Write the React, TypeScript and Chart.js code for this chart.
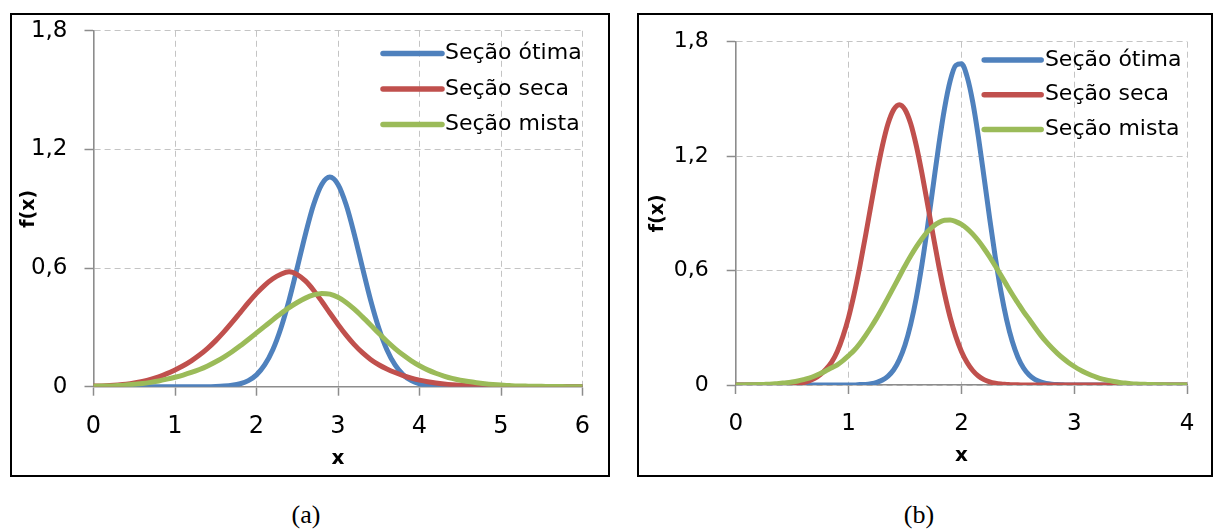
import React, { useEffect, useRef } from "react";
import { Chart, registerables } from "chart.js";

Chart.register(...registerables);

// ---------- data: chart (a) ----------
const xA = [
  0, 0.1, 0.2, 0.3, 0.4, 0.5, 0.6, 0.7, 0.8, 0.9,
  1, 1.1, 1.2, 1.3, 1.4, 1.5, 1.6, 1.7, 1.8, 1.9,
  2, 2.1, 2.2, 2.3, 2.4, 2.5, 2.6, 2.7, 2.8, 2.9,
  3, 3.1, 3.2, 3.3, 3.4, 3.5, 3.6, 3.7, 3.8, 3.9,
  4, 4.1, 4.2, 4.3, 4.4, 4.5, 4.6, 4.7, 4.8, 4.9,
  5, 5.1, 5.2, 5.3, 5.4, 5.5, 5.6, 5.7, 5.8, 5.9,
  6,
];
const otimaA = [
  0, 0, 0, 0, 0, 0, 0, 0, 0, 0,
  0, 0, 0, 0, 0, 0.001, 0.003, 0.007, 0.015, 0.031,
  0.06, 0.11, 0.187, 0.297, 0.438, 0.602, 0.771, 0.92, 1.023, 1.06,
  1.023, 0.92, 0.771, 0.602, 0.438, 0.297, 0.187, 0.11, 0.06, 0.031,
  0.015, 0.007, 0.003, 0.001, 0, 0, 0, 0, 0, 0,
  0, 0, 0, 0, 0, 0, 0, 0, 0, 0,
  0,
];
const secaA = [
  0.003, 0.004, 0.006, 0.009, 0.013, 0.019, 0.027, 0.037, 0.05, 0.066,
  0.085, 0.106, 0.131, 0.16, 0.194, 0.233, 0.277, 0.325, 0.375, 0.425,
  0.472, 0.513, 0.546, 0.569, 0.581, 0.567, 0.535, 0.488, 0.432, 0.373,
  0.315, 0.261, 0.213, 0.172, 0.138, 0.111, 0.09, 0.072, 0.056, 0.043,
  0.033, 0.025, 0.019, 0.014, 0.01, 0.007, 0.005, 0.004, 0.003, 0.002,
  0.002, 0.001, 0.001, 0, 0, 0, 0, 0, 0, 0,
  0,
];
const mistaA = [
  0.002, 0.003, 0.004, 0.006, 0.008, 0.012, 0.016, 0.022, 0.029, 0.038,
  0.048, 0.059, 0.072, 0.087, 0.105, 0.126, 0.15, 0.177, 0.207, 0.239,
  0.272, 0.305, 0.338, 0.37, 0.4, 0.426, 0.448, 0.464, 0.472, 0.468,
  0.452, 0.426, 0.392, 0.353, 0.312, 0.27, 0.23, 0.193, 0.16, 0.131,
  0.106, 0.085, 0.068, 0.054, 0.042, 0.033, 0.026, 0.02, 0.015, 0.011,
  0.008, 0.006, 0.004, 0.003, 0.002, 0.002, 0.001, 0.001, 0, 0,
  0,
];

// ---------- data: chart (b) ----------
const xB = [
  0, 0.05, 0.1, 0.15, 0.2, 0.25, 0.3, 0.35, 0.4, 0.45,
  0.5, 0.55, 0.6, 0.65, 0.7, 0.75, 0.8, 0.85, 0.9, 0.95,
  1, 1.05, 1.1, 1.15, 1.2, 1.25, 1.3, 1.35, 1.4, 1.45,
  1.5, 1.55, 1.6, 1.65, 1.7, 1.75, 1.8, 1.85, 1.9, 1.95,
  2, 2.05, 2.1, 2.15, 2.2, 2.25, 2.3, 2.35, 2.4, 2.45,
  2.5, 2.55, 2.6, 2.65, 2.7, 2.75, 2.8, 2.85, 2.9, 2.95,
  3, 3.05, 3.1, 3.15, 3.2, 3.25, 3.3, 3.35, 3.4, 3.45,
  3.5, 3.55, 3.6, 3.65, 3.7, 3.75, 3.8, 3.85, 3.9, 3.95,
  4,
];
const otimaB = [
  0, 0, 0, 0, 0, 0, 0, 0, 0, 0,
  0, 0, 0, 0, 0, 0, 0, 0, 0, 0,
  0, 0, 0.002, 0.003, 0.007, 0.014, 0.026, 0.047, 0.08, 0.133,
  0.21, 0.317, 0.457, 0.631, 0.831, 1.047, 1.261, 1.45, 1.595, 1.676,
  1.684, 1.617, 1.484, 1.301, 1.09, 0.874, 0.669, 0.49, 0.343, 0.229,
  0.146, 0.089, 0.052, 0.029, 0.016, 0.008, 0.004, 0.002, 0.001, 0,
  0, 0, 0, 0, 0, 0, 0, 0, 0, 0,
  0, 0, 0, 0, 0, 0, 0, 0, 0, 0,
  0,
];
const secaB = [
  0, 0, 0, 0, 0, 0, 0, 0.001, 0.002, 0.003,
  0.005, 0.008, 0.013, 0.022, 0.035, 0.055, 0.083, 0.12, 0.176, 0.255,
  0.355, 0.479, 0.623, 0.782, 0.948, 1.11, 1.255, 1.371, 1.444, 1.47,
  1.444, 1.371, 1.255, 1.11, 0.948, 0.782, 0.623, 0.479, 0.355, 0.255,
  0.176, 0.118, 0.076, 0.047, 0.028, 0.016, 0.009, 0.005, 0.003, 0.001,
  0.001, 0, 0, 0, 0, 0, 0, 0, 0, 0,
  0, 0, 0, 0, 0, 0, 0, 0, 0, 0,
  0, 0, 0, 0, 0, 0, 0, 0, 0, 0,
  0,
];
const mistaB = [
  0, 0, 0.001, 0.001, 0.002, 0.003, 0.004, 0.006, 0.009, 0.012,
  0.016, 0.021, 0.028, 0.036, 0.047, 0.06, 0.075, 0.09, 0.106, 0.128,
  0.154, 0.182, 0.218, 0.259, 0.304, 0.352, 0.404, 0.458, 0.513, 0.569,
  0.624, 0.676, 0.724, 0.767, 0.804, 0.832, 0.852, 0.864, 0.865, 0.857,
  0.842, 0.82, 0.791, 0.756, 0.716, 0.672, 0.624, 0.575, 0.525, 0.476,
  0.43, 0.385, 0.345, 0.303, 0.263, 0.227, 0.195, 0.166, 0.14, 0.117,
  0.097, 0.079, 0.064, 0.051, 0.04, 0.031, 0.024, 0.018, 0.013, 0.01,
  0.007, 0.005, 0.004, 0.003, 0.002, 0.001, 0.001, 0, 0, 0,
  0,
];

// ---------- labels ----------
const seriesNames = ["Seção ótima", "Seção seca", "Seção mista"];
const seriesColors = ["#4F81BD", "#C0504D", "#9BBB59"];
const yTickLabels = ["0", "0,6", "1,2", "1,8"];
const xTickLabelsA = ["0", "1", "2", "3", "4", "5", "6"];
const xTickLabelsB = ["0", "1", "2", "3", "4"];
const yTitle = "f(x)";
const xTitle = "x";
const captions = ["(a)", "(b)"];

const FONT = "'DejaVu Sans', sans-serif";

const inPlotLegend = {
  id: "inPlotLegend",
  afterDatasetsDraw(chart: any, _args: any, opts: any) {
    const { ctx, chartArea } = chart;
    const x0 = chartArea.right - opts.fromRight;
    chart.data.datasets.forEach((ds: any, i: number) => {
      const y = chartArea.top + opts.firstRow + i * opts.rowGap;
      ctx.save();
      ctx.strokeStyle = ds.borderColor;
      ctx.lineWidth = opts.lineWidth;
      ctx.lineCap = "round";
      ctx.beginPath();
      ctx.moveTo(x0, y);
      ctx.lineTo(x0 + opts.lineLen, y);
      ctx.stroke();
      ctx.fillStyle = "#000";
      ctx.font = opts.font;
      ctx.textBaseline = "middle";
      ctx.textAlign = "left";
      ctx.fillText(ds.label, x0 + opts.textOffset, y);
      ctx.restore();
    });
  },
};

type Spec = {
  xs: number[];
  series: number[][];
  xMax: number;
  xTickLabels: string[];
  yAxisWidth: number;
  xAxisHeight: number;
  padTop: number;
  padRight: number;
  yTickFont: number;
  xTickFont: number;
  yTickPad: number;
  xTickPad: number;
  yTitlePad: number;
  xTitlePad: number;
  legend: any;
};

function buildConfig(s: Spec): any {
  const order = [2, 1, 0];
  return {
    type: "line",
    data: {
      datasets: s.series.map((vals, i) => ({
        label: seriesNames[i],
        data: s.xs.map((x, j) => ({ x, y: vals[j] })),
        borderColor: seriesColors[i],
        backgroundColor: seriesColors[i],
        borderWidth: 5,
        pointRadius: 0,
        fill: false,
        cubicInterpolationMode: "monotone",
        borderCapStyle: "round",
        borderJoinStyle: "round",
        order: order[i],
      })),
    },
    options: {
      animation: false,
      responsive: false,
      devicePixelRatio: 1,
      events: [],
      layout: { padding: { top: s.padTop, right: s.padRight, left: 0, bottom: 0 } },
      plugins: {
        legend: { display: false },
        tooltip: { enabled: false },
        inPlotLegend: s.legend,
      },
      scales: {
        x: {
          type: "linear",
          min: 0,
          max: s.xMax,
          afterFit: (sc: any) => {
            sc.height = s.xAxisHeight;
          },
          ticks: {
            stepSize: 1,
            autoSkip: false,
            maxRotation: 0,
            padding: s.xTickPad,
            color: "#000",
            font: { family: FONT, size: s.xTickFont },
            callback: (v: number) => s.xTickLabels[Math.round(v)],
          },
          grid: {
            color: "#C4C4C4",
            lineWidth: 1,
            tickColor: "#8C8C8C",
            tickLength: 9,
            tickWidth: 1.5,
          },
          border: { display: true, color: "#8C8C8C", width: 1.6, dash: [6, 4] },
          title: {
            display: true,
            text: xTitle,
            color: "#000",
            font: { family: FONT, size: 20, weight: "bold" },
            padding: { top: 0, bottom: s.xTitlePad },
          },
        },
        y: {
          type: "linear",
          min: 0,
          max: 1.8,
          afterFit: (sc: any) => {
            sc.width = s.yAxisWidth;
          },
          ticks: {
            stepSize: 0.6,
            padding: s.yTickPad,
            color: "#000",
            font: { family: FONT, size: s.yTickFont },
            callback: (v: number) => yTickLabels[Math.round(v / 0.6)],
          },
          grid: {
            color: "#C4C4C4",
            lineWidth: 1,
            tickColor: "#8C8C8C",
            tickLength: 9,
            tickWidth: 1.5,
          },
          border: { display: true, color: "#8C8C8C", width: 1.6, dash: [6, 4] },
          title: {
            display: true,
            text: yTitle,
            color: "#000",
            font: { family: FONT, size: 19, weight: "bold" },
            padding: { top: s.yTitlePad, bottom: 0 },
          },
        },
      },
    },
    plugins: [inPlotLegend],
  };
}

const specA: Spec = {
  xs: xA,
  series: [otimaA, secaA, mistaA],
  xMax: 6,
  xTickLabels: xTickLabelsA,
  yAxisWidth: 81.5,
  xAxisHeight: 88.3,
  padTop: 26.7,
  padRight: 25.5,
  yTickFont: 23,
  xTickFont: 24,
  yTickPad: 17,
  xTickPad: 16.5,
  yTitlePad: 5.6,
  xTitlePad: 4,
  legend: {
    fromRight: 199.5,
    firstRow: 22.6,
    rowGap: 35.5,
    lineLen: 59,
    textOffset: 62,
    lineWidth: 5.5,
    font: `22px ${FONT}`,
  },
};

const specB: Spec = {
  xs: xB,
  series: [otimaB, secaB, mistaB],
  xMax: 4,
  xTickLabels: xTickLabelsB,
  yAxisWidth: 96.7,
  xAxisHeight: 90,
  padTop: 41.7,
  padRight: 15,
  yTickFont: 22,
  xTickFont: 23,
  yTickPad: 18,
  xTickPad: 16.5,
  yTitlePad: 8.1,
  xTitlePad: 7.5,
  legend: {
    fromRight: 203,
    firstRow: 18.3,
    rowGap: 34.7,
    lineLen: 57,
    textOffset: 60.7,
    lineWidth: 5.5,
    font: `22px ${FONT}`,
  },
};

function ChartCanvas({ spec, left, width }: { spec: Spec; left: number; width: number }) {
  const ref = useRef<HTMLCanvasElement | null>(null);
  useEffect(() => {
    if (!ref.current) return;
    const chart = new Chart(ref.current, buildConfig(spec));
    return () => chart.destroy();
  }, [spec]);
  return (
    <canvas
      ref={ref}
      width={width}
      height={475}
      style={{ position: "absolute", left, top: 0, width, height: 475 }}
    />
  );
}

export default function App() {
  const box = (left: number, width: number): React.CSSProperties => ({
    position: "absolute",
    left,
    top: 13,
    width: width - 4,
    height: 464 - 4,
    border: "2px solid #000",
    background: "#fff",
  });
  const cap = (center: number): React.CSSProperties => ({
    position: "absolute",
    left: center - 50,
    top: 500,
    width: 100,
    textAlign: "center",
    fontFamily: "'Liberation Serif', 'Times New Roman', serif",
    fontSize: 26,
    lineHeight: "30px",
    color: "#000",
  });
  return (
    <div
      style={{
        position: "fixed",
        left: 0,
        top: 0,
        width: 1214,
        height: 530,
        background: "#fff",
        overflow: "hidden",
      }}
    >
      <div style={box(10, 600)} />
      <div style={box(637, 576)} />
      <ChartCanvas spec={specA} left={12} width={596} />
      <ChartCanvas spec={specB} left={639} width={572} />
      <div style={cap(306)}>{captions[0]}</div>
      <div style={cap(919)}>{captions[1]}</div>
    </div>
  );
}
